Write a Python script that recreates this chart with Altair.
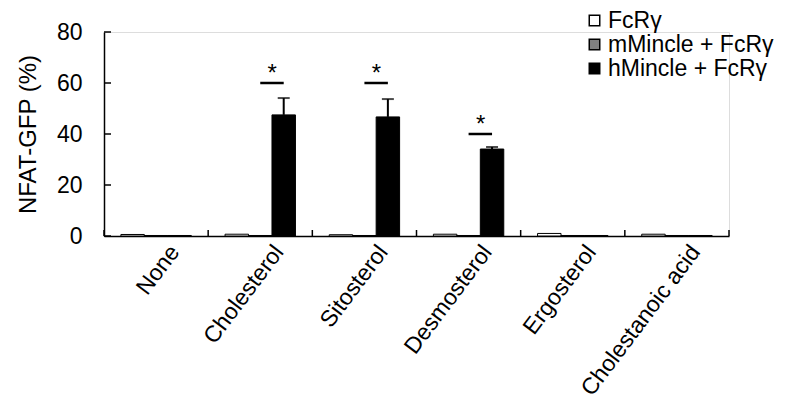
import altair as alt
import pandas as pd

categories = ["None", "Cholesterol", "Sitosterol", "Desmosterol", "Ergosterol", "Cholestanoic acid"]
series = ["FcRγ", "mMincle + FcRγ", "hMincle + FcRγ"]
colors = ["#ffffff", "#808080", "#000000"]
fcr_vals = [0.6, 0.7, 0.5, 0.7, 1.0, 0.7]
mmincle_vals = [0.2, 0.2, 0.2, 0.2, 0.2, 0.2]
hmincle_vals = [0.2, 47.5, 46.7, 34.1, 0.2, 0.2]
hmincle_err = [0.0, 6.6, 7.0, 0.8, 0.0, 0.0]
sig_cats = ["Cholesterol", "Sitosterol", "Desmosterol"]
sig_levels = [60, 60, 40]
y_ticks = [0, 20, 40, 60, 80]

FONT = "Liberation Sans"
FS = 23

rows = []
for i, c in enumerate(categories):
    rows.append({"cat": c, "series": series[0], "value": fcr_vals[i], "err": 0.0})
    rows.append({"cat": c, "series": series[1], "value": mmincle_vals[i], "err": 0.0})
    rows.append({"cat": c, "series": series[2], "value": hmincle_vals[i], "err": hmincle_err[i]})
df = pd.DataFrame(rows)
df["top"] = df["value"] + df["err"]
err_df = df[df["err"] > 0]

sig_rows = []
for c, lv in zip(sig_cats, sig_levels):
    sig_rows.append({"cat": c, "series": series[1], "y": lv})
    sig_rows.append({"cat": c, "series": series[2], "y": lv})
sig_df = pd.DataFrame(sig_rows)
star_df = pd.DataFrame({"cat": sig_cats, "series": [series[1]] * len(sig_cats), "y": sig_levels})

xscale = alt.Scale(domain=categories, paddingInner=0, paddingOuter=0)
yscale = alt.Scale(domain=[0, 80])
offscale = alt.Scale(domain=series, paddingInner=0, paddingOuter=0.72)

x_enc = alt.X("cat:N", scale=xscale, sort=categories,
              axis=alt.Axis(title=None, labelAngle=-53, labelFontSize=FS, labelFont=FONT,
                            labelColor="black", tickSize=0, domainColor="black", domainWidth=1.5,
                            labelPadding=5, labelOffset=10, labelAlign="right", labelBaseline="top",
                            labelLimit=400))
xo_enc = alt.XOffset("series:N", scale=offscale, sort=series)

bars = alt.Chart(df).mark_bar(stroke="black", strokeWidth=1).encode(
    x=x_enc,
    xOffset=xo_enc,
    y=alt.Y("value:Q", scale=yscale,
            axis=alt.Axis(title="NFAT-GFP (%)", values=y_ticks, tickSize=0, labelFontSize=FS,
                          labelFont=FONT, labelColor="black", titleFontSize=24, titleFont=FONT,
                          titleFontWeight="normal", titleColor="black", domainColor="black",
                          domainWidth=1.5, labelPadding=22, grid=False, titlePadding=16)),
    color=alt.Color("series:N", sort=series, scale=alt.Scale(domain=series, range=colors),
                    legend=alt.Legend(title=None, orient="none", legendX=479, legendY=-23,
                                      symbolType="square", symbolSize=110, symbolStrokeColor="black",
                                      symbolStrokeWidth=1.5, labelFontSize=FS, labelFont=FONT,
                                      labelColor="black", labelOffset=2, rowPadding=0,
                                      labelLimit=400)),
)

err_rule = alt.Chart(err_df).mark_rule(color="black", strokeWidth=2).encode(
    x=alt.X("cat:N", scale=xscale, sort=categories),
    xOffset=xo_enc,
    y=alt.Y("value:Q", scale=yscale),
    y2="top:Q",
)
err_cap = alt.Chart(err_df).mark_tick(color="black", thickness=2, size=12, orient="horizontal").encode(
    x=alt.X("cat:N", scale=xscale, sort=categories),
    xOffset=xo_enc,
    y=alt.Y("top:Q", scale=yscale),
)

sig_line = alt.Chart(sig_df).mark_line(color="black", strokeWidth=2.5).encode(
    x=alt.X("cat:N", scale=xscale, sort=categories),
    xOffset=xo_enc,
    y=alt.Y("y:Q", scale=yscale),
    detail="cat:N",
)
stars = alt.Chart(star_df).mark_text(text="*", fontSize=24, font=FONT, color="black",
                                     dx=12, dy=3, baseline="bottom").encode(
    x=alt.X("cat:N", scale=xscale, sort=categories),
    xOffset=xo_enc,
    y=alt.Y("y:Q", scale=yscale),
)

ytick_df = pd.DataFrame({"v": y_ticks})
yticks = alt.Chart(ytick_df).mark_rule(color="black", strokeWidth=1.5).encode(
    y=alt.Y("v:Q", scale=yscale),
    x=alt.value(0),
    x2=alt.value(7),
)
xtick_df = pd.DataFrame({"cat": categories})
xticks = alt.Chart(xtick_df).mark_rule(color="black", strokeWidth=1.5).encode(
    x=alt.X("cat:N", scale=xscale, sort=categories, bandPosition=0),
    y=alt.value(204),
    y2=alt.value(198),
)
xtick_end = alt.Chart(pd.DataFrame({"cat": categories[-1:]})).mark_rule(color="black", strokeWidth=1.5).encode(
    x=alt.X("cat:N", scale=xscale, sort=categories, bandPosition=1),
    y=alt.value(204),
    y2=alt.value(198),
)

chart = alt.layer(bars, err_rule, err_cap, sig_line, stars, yticks, xticks, xtick_end).properties(
    width=625, height=204,
    autosize=alt.AutoSizeParams(type="none"),
    padding={"left": 96, "top": 24, "right": 65, "bottom": 170},
).configure_view(stroke=None).configure(font=FONT, background="white")

chart.save("out.html", embed_options={"renderer": "svg", "actions": False})
